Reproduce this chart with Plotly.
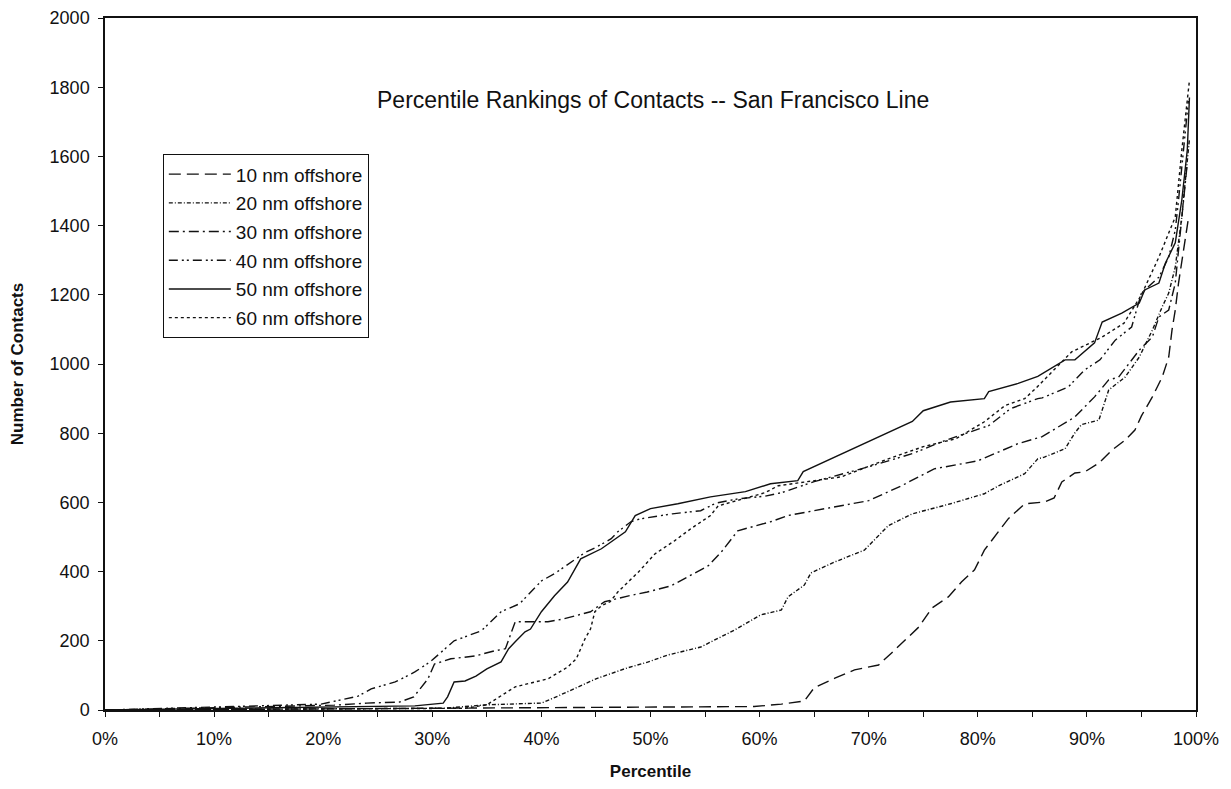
import plotly.graph_objects as go

# ---- data (percentile as fraction, number of contacts) ----
x_10nm = [0, 0.595, 0.62, 0.641, 0.65, 0.669, 0.687, 0.709, 0.721, 0.733,
          0.746, 0.758, 0.773, 0.785, 0.797, 0.806, 0.818, 0.828, 0.843, 0.861,
          0.87, 0.877, 0.889, 0.898, 0.911, 0.923, 0.935, 0.944, 0.95, 0.96,
          0.969, 0.975, 0.978, 0.981, 0.984, 0.99, 0.993]
y_10nm = [0, 10, 17, 26, 64, 92, 116, 130, 165, 202,
          240, 295, 327, 370, 405, 462, 510, 553, 596, 601,
          613, 659, 685, 688, 714, 751, 780, 809, 850, 905,
          962, 1020, 1098, 1156, 1234, 1358, 1420]

x_20nm = [0, 0.31, 0.35, 0.40, 0.415, 0.436, 0.45, 0.477, 0.498, 0.516,
          0.546, 0.577, 0.601, 0.62, 0.626, 0.641, 0.647, 0.669, 0.696, 0.718,
          0.74, 0.775, 0.806, 0.819, 0.843, 0.855, 0.861, 0.88, 0.889, 0.895,
          0.911, 0.92, 0.935, 0.948, 0.96, 0.969, 0.975, 0.981, 0.987, 0.99,
          0.994]
y_20nm = [0, 5, 15, 20, 40, 69, 90, 120, 139, 159,
          182, 231, 275, 289, 327, 361, 396, 428, 462, 533,
          567, 596, 625, 648, 683, 726, 731, 755, 801, 825,
          838, 925, 962, 1020, 1098, 1165, 1205, 1280, 1425, 1523,
          1650]

x_30nm = [0, 0.21, 0.24, 0.27, 0.283, 0.296, 0.302, 0.317, 0.339, 0.357,
          0.367, 0.376, 0.406, 0.42, 0.445, 0.458, 0.48, 0.497, 0.519, 0.534,
          0.553, 0.565, 0.58, 0.61, 0.626, 0.66, 0.70, 0.73, 0.76, 0.80,
          0.837, 0.859, 0.877, 0.889, 0.907, 0.92, 0.929, 0.941, 0.948, 0.96,
          0.966, 0.975, 0.981, 0.984, 0.987, 0.992]
y_30nm = [0, 14, 20, 23, 38, 90, 133, 148, 156, 171,
          177, 255, 255, 263, 284, 313, 330, 341, 359, 385,
          417, 457, 518, 544, 562, 582, 605, 648, 697, 720,
          770, 790, 824, 847, 905, 954, 962, 1012, 1040, 1078,
          1136, 1156, 1234, 1329, 1425, 1580]

x_40nm = [0, 0.198, 0.232, 0.244, 0.266, 0.284, 0.298, 0.32, 0.345, 0.363,
          0.38, 0.40, 0.412, 0.427, 0.44, 0.45, 0.464, 0.47, 0.482, 0.49,
          0.52, 0.546, 0.56, 0.58, 0.605, 0.62, 0.65, 0.70, 0.74, 0.77,
          0.81, 0.83, 0.855, 0.859, 0.883, 0.898, 0.912, 0.926, 0.941, 0.95,
          0.966, 0.975, 0.981, 0.984, 0.987, 0.993]
y_40nm = [0, 17, 40, 61, 81, 110, 139, 200, 229, 284,
          307, 373, 394, 428, 455, 470, 495, 515, 544, 552,
          567, 576, 598, 610, 618, 628, 660, 703, 741, 779,
          822, 871, 900, 902, 934, 983, 1012, 1069, 1107, 1205,
          1251, 1309, 1387, 1474, 1569, 1760]

x_50nm = [0, 0.284, 0.31, 0.314, 0.32, 0.33, 0.34, 0.35, 0.363, 0.37,
          0.376, 0.385, 0.39, 0.40, 0.412, 0.424, 0.436, 0.455, 0.477, 0.486,
          0.50, 0.525, 0.555, 0.587, 0.61, 0.635, 0.64, 0.67, 0.70, 0.74,
          0.75, 0.775, 0.806, 0.81, 0.837, 0.855, 0.88, 0.889, 0.907, 0.914,
          0.932, 0.948, 0.953, 0.966, 0.972, 0.981, 0.987, 0.99, 0.992, 0.994]
y_50nm = [0, 12, 20, 38, 81, 84, 98, 119, 139, 177,
          197, 226, 234, 284, 330, 370, 437, 466, 515, 562,
          582, 596, 616, 631, 654, 663, 689, 733, 775, 834,
          865, 890, 900, 920, 944, 964, 1012, 1012, 1061, 1121,
          1147, 1176, 1214, 1234, 1292, 1350, 1474, 1569, 1618, 1770]

x_60nm = [0, 0.33, 0.35, 0.363, 0.376, 0.406, 0.424, 0.432, 0.436, 0.44,
          0.445, 0.449, 0.455, 0.463, 0.47, 0.48, 0.489, 0.504, 0.522, 0.537,
          0.555, 0.562, 0.58, 0.605, 0.617, 0.675, 0.718, 0.75, 0.78, 0.806,
          0.825, 0.843, 0.853, 0.886, 0.914, 0.934, 0.95, 0.966, 0.981, 0.984,
          0.987, 0.994]
y_60nm = [0, 5, 15, 40, 67, 90, 124, 148, 177, 206,
          234, 284, 301, 313, 341, 370, 399, 451, 489, 524,
          562, 590, 605, 628, 648, 674, 726, 761, 784, 833,
          880, 900, 929, 1035, 1078, 1118, 1200, 1309, 1425, 1532,
          1618, 1820]

series_names = ["10 nm offshore", "20 nm offshore", "30 nm offshore",
                "40 nm offshore", "50 nm offshore", "60 nm offshore"]
x_tick_vals = [0, 0.1, 0.2, 0.3, 0.4, 0.5, 0.6, 0.7, 0.8, 0.9, 1.0]
x_tick_text = ["0%", "10%", "20%", "30%", "40%", "50%", "60%", "70%", "80%", "90%", "100%"]
y_tick_vals = [0, 200, 400, 600, 800, 1000, 1200, 1400, 1600, 1800, 2000]

xs = [x_10nm, x_20nm, x_30nm, x_40nm, x_50nm, x_60nm]
ys = [y_10nm, y_20nm, y_30nm, y_40nm, y_50nm, y_60nm]
dashes = ["12px,6px", "4px,2px,1px,2px", "10px,4px,2px,4px",
          "9px,4px,2px,3px,2px,4px", "solid", "3px,3px"]

FONT = "Liberation Sans, Arial, sans-serif"
INK = "#111111"

fig = go.Figure()
for i, (name, xv, yv, d) in enumerate(zip(series_names, xs, ys, dashes)):
    fig.add_trace(go.Scatter(
        x=xv, y=yv, mode="lines", name=name, legendgroup=f"g{i}",
        line=dict(color=INK, width=1.4, dash=d),
    ))

fig.update_layout(
    width=1215, height=773,
    margin=dict(l=97, r=27, t=10, b=71, autoexpand=False),
    paper_bgcolor="white", plot_bgcolor="white",
    font=dict(family=FONT, size=17, color=INK),
    showlegend=True,
    title=dict(text="Percentile Rankings of Contacts -- San Francisco Line",
               x=0.531, xanchor="center", y=0.881, yanchor="middle",
               font=dict(family=FONT, size=23, color=INK)),
    legend=dict(x=0.053, y=0.803, xanchor="left", yanchor="top",
                bgcolor="white", bordercolor=INK, borderwidth=1,
                font=dict(family=FONT, size=19, color=INK),
                itemwidth=62, tracegroupgap=1),
    xaxis=dict(range=[0, 1], tickvals=x_tick_vals, ticktext=x_tick_text,
               ticks="outside", ticklen=5, tickcolor=INK, ticklabelstandoff=7,
               minor=dict(dtick=0.05, ticks="outside", ticklen=5, tickcolor=INK),
               showline=True, linecolor=INK, linewidth=1.5, mirror=True,
               showgrid=False, zeroline=False, automargin=False,
               tickfont=dict(family=FONT, size=18),
               title=dict(text="<b>Percentile</b>", standoff=20,
                          font=dict(family=FONT, size=17))),
    yaxis=dict(range=[0, 2000], tickvals=y_tick_vals,
               ticks="outside", ticklen=5, tickcolor=INK, ticklabelstandoff=5,
               showline=True, linecolor=INK, linewidth=1.5, mirror=True,
               showgrid=False, zeroline=False, automargin=False,
               tickfont=dict(family=FONT, size=18),
               title=dict(text="<b>Number of Contacts</b>", standoff=26,
                          font=dict(family=FONT, size=17))),
)

fig.write_html("out.html")
